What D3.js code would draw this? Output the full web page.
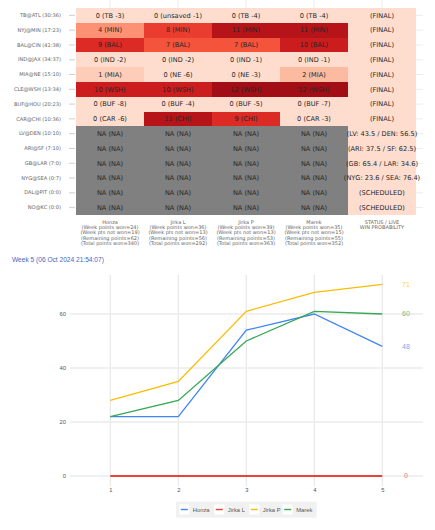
<!DOCTYPE html>
<html><head><meta charset="utf-8">
<script src="https://cdn.jsdelivr.net/npm/d3@7"></script>
<style>
html,body{margin:0;padding:0;background:#fff;}
svg{display:block;}
</style></head>
<body><svg id="c" width="435" height="530"></svg>
<script>
const games = ["TB@ATL (30:36)","NYJ@MIN (17:23)","BAL@CIN (41:38)","IND@JAX (34:37)","MIA@NE (15:10)","CLE@WSH (13:34)","BUF@HOU (20:23)","CAR@CHI (10:36)","LV@DEN (10:10)","ARI@SF (7:10)","GB@LAR (7:0)","NYG@SEA (0:7)","DAL@PIT (0:0)","NO@KC (0:0)"];
const players = ["Honza","Jirka L","Jirka P","Marek"];
const honzaPts = [0,4,9,0,1,10,0,0,null,null,null,null,null,null];
const honzaPick = ["TB -3","MIN","BAL","IND -2","MIA","WSH","BUF -8","CAR -6","NA","NA","NA","NA","NA","NA"];
const jirkaLPts = [0,8,7,0,0,10,0,11,null,null,null,null,null,null];
const jirkaLPick = ["unsaved -1","MIN","BAL","IND -2","NE -6","WSH","BUF -4","CHI","NA","NA","NA","NA","NA","NA"];
const jirkaPPts = [0,11,7,0,0,12,0,9,null,null,null,null,null,null];
const jirkaPPick = ["TB -4","MIN","BAL","IND -1","NE -3","WSH","BUF -5","CHI","NA","NA","NA","NA","NA","NA"];
const marekPts = [0,11,10,0,2,12,0,0,null,null,null,null,null,null];
const marekPick = ["TB -4","MIN","BAL","IND -1","MIA","WSH","BUF -7","CAR -3","NA","NA","NA","NA","NA","NA"];
const status = ["(FINAL)","(FINAL)","(FINAL)","(FINAL)","(FINAL)","(FINAL)","(FINAL)","(FINAL)","(LV: 43.5 / DEN: 56.5)","(ARI: 37.5 / SF: 62.5)","(GB: 65.4 / LAR: 34.6)","(NYG: 23.6 / SEA: 76.4)","(SCHEDULED)","(SCHEDULED)"];
const weekWon = [24,36,39,35];
const weekNotWon = [19,13,13,15];
const remaining = [62,56,53,55];
const totalWon = [340,292,363,352];
const statusHeader = ["STATUS / LIVE","WIN PROBABILITY"];

const chartTitle = "Week 5 (06 Oct 2024 21:54:07)";
const weeks = [1,2,3,4,5];
const seriesNames = ["Honza","Jirka L","Jirka P","Marek"];
const honzaSeries = [22,22,54,60,48];
const jirkaLSeries = [0,0,0,0,0];
const jirkaPSeries = [28,35,61,68,71];
const marekSeries = [22,28,50,61,60];
const yTicks = [0,20,40,60];
const seriesColors = ["#4285f4","#ea4335","#fbbc04","#34a853"];

const svg = d3.select("#c");

// ---------- heatmap table ----------
const colKeys = ["Honza","Jirka L","Jirka P","Marek","STATUS"];
const xb = d3.scaleBand().domain(colKeys).range([76,416]);
const yb = d3.scaleBand().domain(games).range([8,215]);
const color = d3.scaleSequential(d3.interpolateReds).domain([-2,14]);

const ptsCols = [honzaPts,jirkaLPts,jirkaPPts,marekPts];
const pickCols = [honzaPick,jirkaLPick,jirkaPPick,marekPick];
const cells = [];
games.forEach((g,i)=>{
  players.forEach((p,j)=>{
    const v = ptsCols[j][i];
    cells.push({row:g,col:p,v:v,text: v==null ? "NA (NA)" : `${v} (${pickCols[j][i]})`});
  });
  cells.push({row:g,col:"STATUS",v:0,text:status[i]});
});

const tg = svg.append("g");
// faint grid lines outside table
tg.selectAll("line.vg").data(colKeys).join("line")
  .attr("x1",d=>xb(d)+xb.bandwidth()/2).attr("x2",d=>xb(d)+xb.bandwidth()/2)
  .attr("y1",0).attr("y2",8).attr("stroke","#ececec").attr("stroke-width",1);
tg.selectAll("line.hg").data(games).join("line")
  .attr("x1",416).attr("x2",423)
  .attr("y1",d=>yb(d)+yb.bandwidth()/2).attr("y2",d=>yb(d)+yb.bandwidth()/2)
  .attr("stroke","#ececec").attr("stroke-width",1);

tg.selectAll("rect.cell").data(cells).join("rect")
  .attr("x",d=>xb(d.col)).attr("y",d=>yb(d.row))
  .attr("width",d=>xb.bandwidth()+(d.col==="STATUS"?0:0.8))
  .attr("height",(d,i)=>yb.bandwidth()+(yb(d.row)+yb.bandwidth()>=214.9?0:0.8))
  .attr("shape-rendering","crispEdges")
  .attr("fill",d=>d.v==null ? "#808080" : color(d.v));

tg.selectAll("text.cell").data(cells).join("text")
  .attr("x",d=>xb(d.col)+xb.bandwidth()/2)
  .attr("y",d=>yb(d.row)+yb.bandwidth()/2)
  .attr("dy","0.35em").attr("text-anchor","middle")
  .attr("font-family","DejaVu Sans").attr("font-size",6.6)
  .attr("fill","#262626").text(d=>d.text);

// row labels via axis
const yAxisT = d3.axisLeft(yb).tickSize(6).tickPadding(8);
const ya = tg.append("g").attr("transform","translate(75,0)").call(yAxisT);
ya.select(".domain").remove();
ya.selectAll(".tick line").attr("stroke","#cfcfcf").attr("x1",-6).attr("x2",0);
ya.selectAll(".tick text").attr("font-family","DejaVu Sans").attr("font-size",5.1).attr("fill","#666");

// column headers
const headers = players.map((p,j)=>[p,`(Week points won=${weekWon[j]})`,`(Week pts not won=${weekNotWon[j]})`,`(Remaining points=${remaining[j]})`,`(Total points won=${totalWon[j]})`]);
headers.push(statusHeader);
const hg = tg.selectAll("text.hdr").data(headers).join("text")
  .attr("text-anchor","middle").attr("font-family","DejaVu Sans").attr("font-size",5)
  .attr("fill","#666")
  .attr("transform",(d,i)=>`translate(${xb(colKeys[i])+xb.bandwidth()/2},223.5)`);
hg.selectAll("tspan").data(d=>d).join("tspan")
  .attr("x",0).attr("y",(d,i)=>i*5.4).text(d=>d);

// ---------- line chart ----------
const x = d3.scaleLinear().domain([1,5]).range([110.3,382.3]);
const y = d3.scaleLinear().domain([0,60]).range([476,314]);
const cg = svg.append("g");

cg.append("text").attr("x",12).attr("y",262.3)
  .attr("font-family","Liberation Sans, Arial").attr("font-size",6.6)
  .attr("fill","#3f67c4").text(chartTitle);

cg.selectAll("line.vgrid").data(weeks).join("line")
  .attr("x1",d=>x(d)).attr("x2",d=>x(d)).attr("y1",275).attr("y2",486)
  .attr("stroke","#dcdcdc").attr("stroke-width",0.8);
cg.selectAll("line.hgrid").data(yTicks).join("line")
  .attr("x1",70).attr("x2",423).attr("y1",d=>y(d)).attr("y2",d=>y(d))
  .attr("stroke","#ebebeb").attr("stroke-width",1.6);

const yAx = cg.append("g").attr("transform","translate(70,0)")
  .call(d3.axisLeft(y).tickValues(yTicks).tickSize(0).tickPadding(4));
yAx.select(".domain").remove();
yAx.selectAll("text").attr("font-family","Liberation Sans, Arial").attr("font-size",5.8).attr("fill","#555");

const xAx = cg.append("g").attr("transform","translate(0,485)")
  .call(d3.axisBottom(x).tickValues(weeks).tickFormat(d3.format("d")).tickSize(0).tickPadding(3));
xAx.select(".domain").remove();
xAx.selectAll("text").attr("font-family","Liberation Sans, Arial").attr("font-size",5.8).attr("fill","#555");

const allSeries = [honzaSeries,jirkaLSeries,jirkaPSeries,marekSeries];
const line = d3.line().x((d,i)=>x(weeks[i])).y(d=>y(d));
cg.selectAll("path.series").data(allSeries).join("path")
  .attr("d",line).attr("fill","none")
  .attr("stroke",(d,i)=>seriesColors[i]).attr("stroke-width",(d,i)=>i===1?1.8:1.3);

cg.selectAll("text.ann").data(allSeries).join("text")
  .attr("x",406).attr("y",d=>y(d[d.length-1])).attr("dy","0.35em")
  .attr("text-anchor","middle").attr("font-family","Liberation Sans, Arial").attr("font-size",7)
  .attr("fill",(d,i)=>seriesColors[i]).attr("fill-opacity",0.75)
  .text(d=>d[d.length-1]);

// legend
const lg = cg.append("g");
lg.append("rect").attr("x",176).attr("y",501.7).attr("width",140.7).attr("height",16).attr("fill","#f1f1f1");
const legX = [179.3,214.3,249.3,282.7];
const li = lg.selectAll("g.li").data(seriesNames).join("g")
  .attr("transform",(d,i)=>`translate(${legX[i]},509.5)`);
li.append("rect").attr("x",0).attr("y",-5).attr("width",10).attr("height",10).attr("fill","#fff");
li.append("line").attr("x1",1.5).attr("x2",8.5).attr("y1",0).attr("y2",0)
  .attr("stroke",(d,i)=>seriesColors[i]).attr("stroke-width",1.4);
li.append("text").attr("x",13.5).attr("y",0).attr("dy","0.35em")
  .attr("font-family","Liberation Sans, Arial").attr("font-size",5.8).attr("fill","#555").text(d=>d);
</script></body></html>
